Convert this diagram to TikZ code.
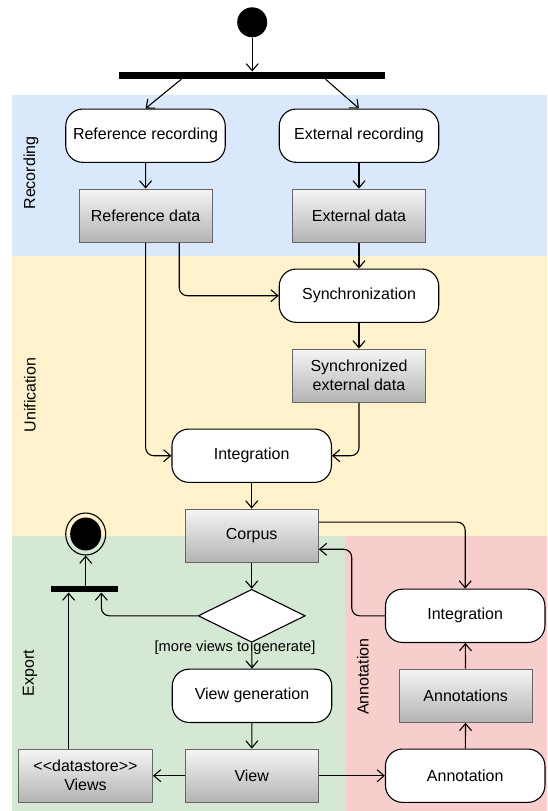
\documentclass[tikz,border=0pt]{standalone}
\usepackage{fontspec}
\setmainfont{Liberation Sans}
\usetikzlibrary{arrows.meta,shapes.geometric,calc}
\definecolor{laneblue}{HTML}{DAE8FC}
\definecolor{laneyellow}{HTML}{FFF2CC}
\definecolor{lanegreen}{HTML}{D5E8D4}
\definecolor{lanered}{HTML}{F8CECC}
\definecolor{boxedge}{HTML}{666666}
\definecolor{shadetop}{HTML}{F5F5F5}
\definecolor{shadebot}{HTML}{B3B3B3}

\begin{document}
\begin{tikzpicture}[x=1pt,y=-1pt,
  font=\fontsize{16}{19}\selectfont,
  action/.style={draw=black, fill=white, line width=1.1pt, rounded corners=17pt,
    minimum width=159.5pt, minimum height=53.3pt, inner sep=0pt, align=center},
  object/.style={draw=boxedge, line width=1pt, top color=shadetop, bottom color=shadebot,
    minimum width=133.3pt, minimum height=53.3pt, inner sep=0pt, align=center},
  forkbar/.style={fill=black, draw=none, inner sep=0pt},
  flow/.style={line width=1.1pt, -{Straight Barb[length=7pt,width=12pt]}, rounded corners=8pt},
  lanelabel/.style={rotate=90, inner sep=0pt},
  guard/.style={font=\fontsize{14.7}{17}\selectfont, inner sep=0pt}
]
\useasboundingbox (0,0) rectangle (547,811);

% swimlanes
\fill[laneblue]   (12.2,95)    rectangle (547,255.7);
\fill[laneyellow] (12.2,255.7) rectangle (547,535.7);
\fill[lanegreen]  (12.2,535.7) rectangle (345.4,811);
\fill[lanered]    (345.4,535.7) rectangle (547,811);

\node[lanelabel] (lrec) at (31,173) {Recording};
\node[lanelabel] (luni) at (30,395) {Unification};
\node[lanelabel] (lexp) at (30,673.3) {Export};
\node[lanelabel] (lann) at (362.8,676.7) {Annotation};

% initial node and fork
\node[circle, fill=black, minimum size=30pt, inner sep=0pt] (start) at (252.2,22.3) {};
\node[forkbar, minimum width=266.2pt, minimum height=7.3pt] (fork) at (251.7,75.35) {};

% recording
\node[action] (refrec) at (145.5,135.7) {Reference recording};
\node[action] (extrec) at (359,135.7) {External recording};
\node[object] (refdata) at (145.65,215.7) {Reference data};
\node[object] (extdata) at (359,215.7) {External data};

% unification
\node[action] (sync) at (359,295.7) {Synchronization};
\node[object] (syncdata) at (359,375.7) {Synchronized\\external data};
\node[action] (integ) at (251.7,455.7) {Integration};
\node[object] (corpus) at (251.7,535.7) {Corpus};

% export
\node[diamond, draw=black, fill=white, line width=1.1pt, minimum width=107pt,
      minimum height=53pt, inner sep=0pt] (choice) at (251.7,615.8) {};
\node[guard] (guardtxt) at (235,648) {[more views to generate]};
\node[action] (viewgen) at (252,695.8) {View generation};
\node[object] (view) at (251.7,775.7) {View};
\node[object, minimum width=134pt] (views) at (85.5,775.7) {<{}<datastore>{}>\\Views};
\node[forkbar, minimum width=66.6pt, minimum height=6.6pt] (join) at (84.6,589) {};
\node[ellipse, draw=black, line width=1.1pt, minimum width=40pt, minimum height=42pt,
      inner sep=0pt] (end) at (85.7,534) {};
\node[ellipse, fill=black, minimum width=31pt, minimum height=33pt, inner sep=0pt]
      (endcore) at (end.center) {};

% annotation
\node[action] (integ2) at (465.2,615.8) {Integration};
\node[object] (annots) at (465.7,695.7) {Annotations};
\node[action] (annot) at (465.2,775.7) {Annotation};

% control and object flows
\draw[flow] (start.south) -- (start.south |- fork.north);
\draw[flow] ($(fork.south west)!0.236!(fork.south east)$) -- (refrec.north);
\draw[flow] ($(fork.south west)!0.777!(fork.south east)$) -- (extrec.north);
\draw[flow] (refrec) -- (refdata);
\draw[flow] (extrec) -- (extdata);
\draw[flow] (extdata) -- (sync);
\draw[flow] ($(refdata.south west)!0.75!(refdata.south east)$) |- (sync.west);
\draw[flow] (sync) -- (syncdata);
\draw[flow] (refdata.south) |- (integ.west);
\draw[flow] (syncdata.south) |- (integ.east);
\draw[flow] (integ) -- (corpus);
\draw[flow] (corpus) -- (choice);
\draw[flow] (choice.west) -| ($(join.south west)!0.75!(join.south east)$);
\draw[flow] (choice.south) -- (viewgen.north);
\draw[flow] (viewgen) -- (view);
\draw[flow] (view) -- (views);
\coordinate (viewstop) at ($(views.north west)!0.375!(views.north east)$);
\draw[flow] (viewstop) -- (viewstop |- join.south);
\draw[flow] (join.north -| end.south) -- (end.south);
\draw[flow] (view) -- (annot);
\draw[flow] (annot) -- (annots);
\draw[flow] (annots) -- (integ2);
\draw[flow] ($(corpus.north east)!0.25!(corpus.south east)$) -| (integ2.north);
\draw[flow] (integ2.west) -- ++(-33.2,0) |- ($(corpus.north east)!0.75!(corpus.south east)$);
\end{tikzpicture}
\end{document}
